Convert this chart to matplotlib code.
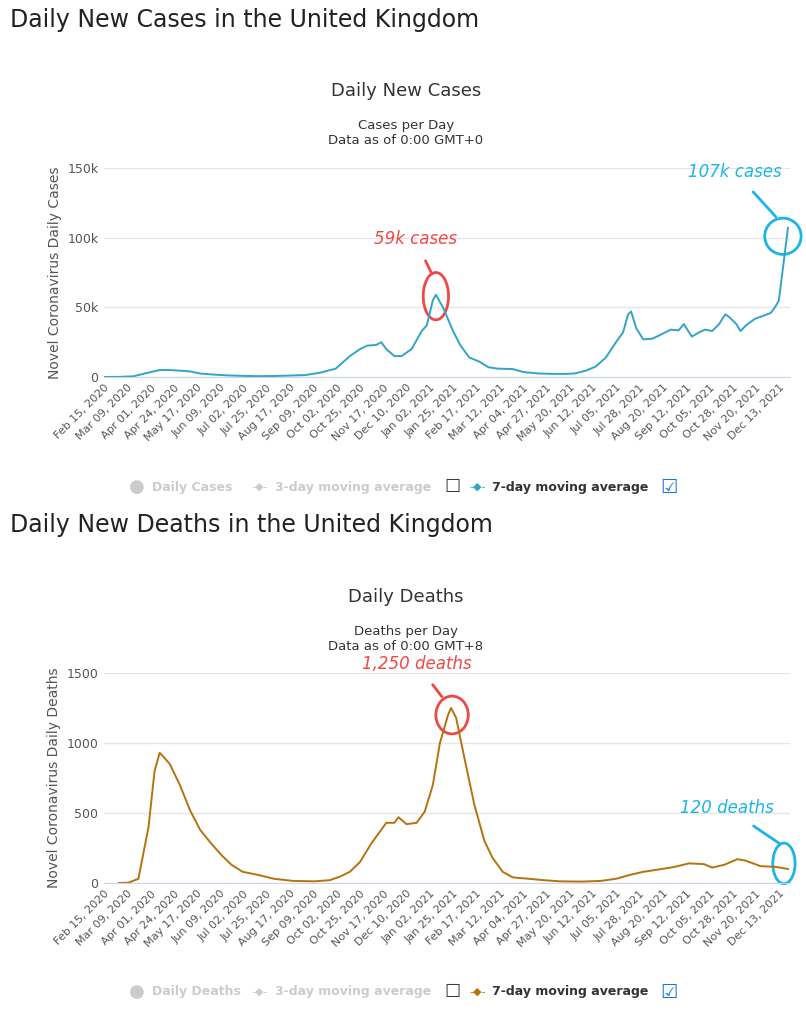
import numpy as np
import pandas as pd
import matplotlib
matplotlib.use("Agg")
import matplotlib.pyplot as plt
from matplotlib.patches import Ellipse

case_dates = ["2020-02-15", "2020-03-01", "2020-03-15", "2020-04-01", "2020-04-10", "2020-04-20",
              "2020-05-01", "2020-05-10", "2020-05-20", "2020-06-01", "2020-06-15", "2020-07-01",
              "2020-07-15", "2020-08-01", "2020-08-15", "2020-09-01", "2020-09-15", "2020-10-01",
              "2020-10-15", "2020-10-25", "2020-11-01", "2020-11-10", "2020-11-15", "2020-11-20",
              "2020-11-28", "2020-12-05", "2020-12-15", "2020-12-25", "2020-12-30", "2021-01-05",
              "2021-01-08", "2021-01-15", "2021-01-25", "2021-02-01", "2021-02-10", "2021-02-20",
              "2021-03-01", "2021-03-10", "2021-03-25", "2021-04-05", "2021-04-20", "2021-05-01",
              "2021-05-15", "2021-05-25", "2021-06-05", "2021-06-15", "2021-06-25", "2021-07-05",
              "2021-07-12", "2021-07-17", "2021-07-20", "2021-07-25", "2021-08-01", "2021-08-10",
              "2021-08-20", "2021-08-28", "2021-09-05", "2021-09-10", "2021-09-18", "2021-09-25",
              "2021-10-01", "2021-10-08", "2021-10-15", "2021-10-21", "2021-10-25", "2021-11-01",
              "2021-11-05", "2021-11-12", "2021-11-20", "2021-11-28", "2021-12-05", "2021-12-10",
              "2021-12-13", "2021-12-22"]
case_vals = [0, 0.1, 0.5, 3.5, 5, 5, 4.5, 4, 2.5, 1.8, 1.2, 0.8, 0.6, 0.7, 1.0, 1.4, 3, 6,
             15, 20, 22.5, 23, 25, 20, 15, 15, 20, 33, 37, 55, 59, 50, 33, 23, 14, 11, 7, 6,
             5.7, 3.5, 2.5, 2.3, 2.2, 2.5, 4.5, 7.5, 14, 25, 32, 45, 47, 35, 27, 27.5, 31, 34,
             33.5, 38, 29, 32, 34, 33, 38, 45, 43, 38, 33, 38, 42, 44, 46, 51, 55, 107]

death_dates = ["2020-03-01", "2020-03-10", "2020-03-20", "2020-03-30", "2020-04-05", "2020-04-10",
               "2020-04-14", "2020-04-20", "2020-04-30", "2020-05-10", "2020-05-20", "2020-05-30",
               "2020-06-10", "2020-06-20", "2020-07-01", "2020-07-15", "2020-08-01", "2020-08-20",
               "2020-09-10", "2020-09-25", "2020-10-05", "2020-10-15", "2020-10-25", "2020-11-05",
               "2020-11-12", "2020-11-20", "2020-11-28", "2020-12-02", "2020-12-10", "2020-12-20",
               "2020-12-28", "2021-01-05", "2021-01-12", "2021-01-20", "2021-01-23", "2021-01-28",
               "2021-02-05", "2021-02-15", "2021-02-25", "2021-03-05", "2021-03-15", "2021-03-25",
               "2021-04-10", "2021-04-25", "2021-05-10", "2021-06-01", "2021-06-20", "2021-07-05",
               "2021-07-20", "2021-08-01", "2021-08-15", "2021-09-01", "2021-09-15", "2021-09-30",
               "2021-10-08", "2021-10-20", "2021-11-02", "2021-11-10", "2021-11-25", "2021-12-10",
               "2021-12-22"]
death_vals = [0, 2, 30, 400, 800, 930, 900, 850, 700, 520, 380, 290, 200, 130, 80, 60, 30, 15,
              12, 20, 45, 80, 150, 280, 350, 430, 430, 470, 420, 430, 510, 700, 1000, 1200,
              1250, 1180, 900, 560, 300, 180, 80, 40, 30, 20, 12, 10, 15, 30, 60, 80, 95, 115,
              140, 135, 110, 130, 170, 160, 120, 115, 100]

tick_dates = pd.date_range("2020-02-15", periods=30, freq="23D")
tick_labels = [d.strftime("%b %d, %Y") for d in tick_dates]

W, H = 806, 1019
fig = plt.figure(figsize=(W / 100, H / 100), dpi=100)
fig.patch.set_facecolor("white")


def fx(px):
    return px / W


def fy(py):
    return 1 - py / H


def panel(top, bottom, dates, vals, color, ymax, yticks, ylab, fmt):
    ax = fig.add_axes([fx(104), fy(bottom), fx(790 - 104), (bottom - top) / H])
    x = pd.to_datetime(dates)
    ax.plot(x, vals, color=color, lw=1.4)
    ax.set_xlim(pd.Timestamp("2020-02-15"), pd.Timestamp("2021-12-24"))
    ax.set_ylim(0, ymax)
    ax.set_yticks(yticks)
    ax.set_yticklabels([fmt(v) for v in yticks], fontsize=9, color="#555555")
    ax.set_xticks(tick_dates)
    ax.set_xticklabels(tick_labels, rotation=45, ha="right", fontsize=8, color="#555555",
                       rotation_mode="anchor")
    ax.grid(axis="y", color="#e6e6e6", lw=1)
    ax.set_axisbelow(True)
    for s in ["top", "right", "left"]:
        ax.spines[s].set_visible(False)
    ax.spines["bottom"].set_color("#ccd6eb")
    ax.tick_params(length=0, pad=4)
    ax.set_ylabel(ylab, fontsize=10, color="#555555")
    return ax


def note(ax, text, color, xy, txt_px):
    ax.annotate(text, xy=xy, xytext=(fx(txt_px[0]), fy(txt_px[1])), textcoords="figure fraction",
                color=color, fontsize=12, style="italic", ha="center", va="center",
                arrowprops=dict(arrowstyle="-", color=color, lw=2, shrinkA=8, shrinkB=0),
                annotation_clip=False)


# cases
fig.text(fx(10), fy(20), "Daily New Cases in the United Kingdom", fontsize=17, va="center", color="#222")
fig.text(fx(406), fy(91), "Daily New Cases", fontsize=13, ha="center", va="center", color="#333")
fig.text(fx(406), fy(125), "Cases per Day", fontsize=9.5, ha="center", va="center", color="#333")
fig.text(fx(406), fy(141), "Data as of 0:00 GMT+0", fontsize=9.5, ha="center", va="center", color="#333")
ax1 = panel(168, 377, case_dates, case_vals, "#33a3c8", 150, [0, 50, 100, 150],
            "Novel Coronavirus Daily Cases", lambda v: f"{v}k" if v else "0")
ax1.add_patch(Ellipse((pd.Timestamp("2021-01-08"), 58), 25, 34, fill=False, ec="#f04747", lw=2))
note(ax1, "59k cases", "#f04747", (pd.Timestamp("2021-01-04"), 74), (415, 239))
ax1.add_patch(Ellipse((pd.Timestamp("2021-12-17"), 101), 36, 26, fill=False, ec="#1ab4e8", lw=2,
                      clip_on=False))
note(ax1, "107k cases", "#1ab4e8", (pd.Timestamp("2021-12-10"), 115), (735, 172))

# deaths
fig.text(fx(10), fy(525), "Daily New Deaths in the United Kingdom", fontsize=17, va="center", color="#222")
fig.text(fx(406), fy(597), "Daily Deaths", fontsize=13, ha="center", va="center", color="#333")
fig.text(fx(406), fy(631), "Deaths per Day", fontsize=9.5, ha="center", va="center", color="#333")
fig.text(fx(406), fy(647), "Data as of 0:00 GMT+8", fontsize=9.5, ha="center", va="center", color="#333")
ax2 = panel(673, 883, death_dates, death_vals, "#b5720f", 1500, [0, 500, 1000, 1500],
            "Novel Coronavirus Daily Deaths", lambda v: str(v))
ax2.add_patch(Ellipse((pd.Timestamp("2021-01-24"), 1200), 32, 270, fill=False, ec="#f04747", lw=2))
note(ax2, "1,250 deaths", "#f04747", (pd.Timestamp("2021-01-14"), 1330), (417, 664))
ax2.add_patch(Ellipse((pd.Timestamp("2021-12-18"), 140), 22, 290, fill=False, ec="#1ab4e8", lw=2,
                      clip_on=False))
note(ax2, "120 deaths", "#1ab4e8", (pd.Timestamp("2021-12-14"), 280), (727, 808))

# legends
for y, first, color in [(487, "Daily Cases", "#33a3c8"), (992, "Daily Deaths", "#b5720f")]:
    fig.text(fx(137), fy(y), "\u25cf", fontsize=13, color="#cccccc", ha="center", va="center")
    fig.text(fx(152), fy(y), first, fontsize=9, color="#cccccc", va="center", weight="bold")
    fig.text(fx(260), fy(y), "-\u25c6-", fontsize=8, color="#cccccc", ha="center", va="center")
    fig.text(fx(275), fy(y), "3-day moving average", fontsize=9, color="#cccccc", va="center", weight="bold")
    fig.text(fx(452), fy(y), "\u2610", fontsize=13, color="#333", ha="center", va="center")
    fig.text(fx(478), fy(y), "-\u25c6-", fontsize=8, color=color, ha="center", va="center")
    fig.text(fx(492), fy(y), "7-day moving average", fontsize=9, color="#333", va="center", weight="bold")
    fig.text(fx(669), fy(y), "\u2611", fontsize=14, color="#1a73e8", ha="center", va="center")

fig.savefig("out.png", dpi=100)
